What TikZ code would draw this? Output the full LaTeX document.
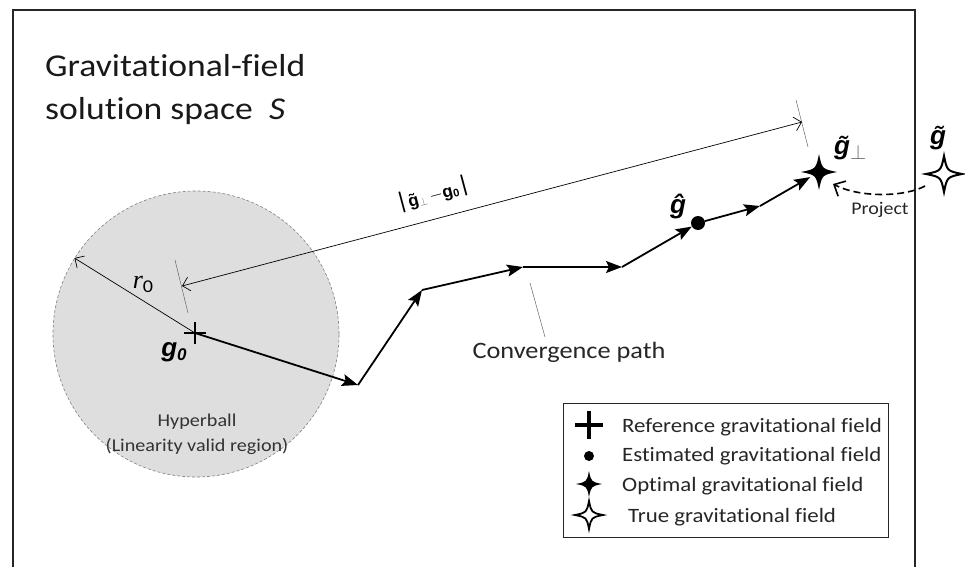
\documentclass[tikz,border=0pt]{standalone}
\usepackage{fontspec}
\setmainfont{Carlito}[FakeStretch=1.12,Ligatures=NoCommon,RawFeature={-liga;-clig;-calt;-dlig}]
\setsansfont{Liberation Sans}
\newfontfamily\tnr{Liberation Serif}
\usetikzlibrary{arrows.meta}
\newcommand\gbf{\sffamily\bfseries\itshape}
\tikzset{
  fourstar/.pic={\path[pic actions] (0,-#1) .. controls ({0.17*#1},{-0.17*#1}) .. (#1,0) .. controls ({0.17*#1},{0.17*#1}) .. (0,#1) .. controls ({-0.17*#1},{0.17*#1}) .. (-#1,0) .. controls ({-0.17*#1},{-0.17*#1}) .. cycle;},
  crossmark/.pic={\draw[line width=#1] (0,0) ++(-4.2*#1,0) -- ++(8.4*#1,0) (0,0) ++(0,-4.2*#1) -- ++(0,8.4*#1);},
  barb/.tip={Straight Barb[length=7pt,width=14pt]},
}
\begin{document}
\begin{tikzpicture}[x=1pt,y=-1pt,
  pathseg/.style={line width=1.8pt,-{Stealth[length=16pt,width=12pt,inset=3pt]}},
  thinarr/.style={line width=0.7pt},
  tickline/.style={line width=0.5pt,black!60},
  markn/.style={inner sep=0pt,minimum size=#1,circle},
  txt/.style={inner sep=0pt,text=black!85},
  legtxt/.style={txt,anchor=base west,font=\fontsize{20.4}{20.4}\selectfont},
]
\useasboundingbox (0,0) rectangle (965,567);
% frame
\draw[line width=1.5pt,black!85] (13,567) -- (13,10) -- (915,10) -- (915,567);
% title
\node[txt,anchor=base west,font=\fontsize{31.8}{31.8}\selectfont,text=black!90] (title1) at (45,77) {Gravitational-field};
\node[txt,anchor=base west,font=\fontsize{31.8}{31.8}\selectfont,text=black!90] (title2) at (45,120) {solution space~ \textit{S}};
% hyperball
\node[circle,minimum size=286pt,inner sep=0pt,fill=black!13,draw=black!50,
  dash pattern=on 3pt off 2pt,line width=0.6pt] (ball) at (196,334) {};
\node[txt,font=\fontsize{18}{25}\selectfont,align=center,text=black!80] (hyp) at (197,434)
  {Hyperball\\(Linearity valid region)};
% path points
\coordinate (g0) at (195,333);
\coordinate (p1) at (358,385);
\coordinate (p2) at (422,290);
\coordinate (p3) at (523,267);
\coordinate (p4) at (622,267);
\node[markn=14pt,fill=black] (est) at (698,223) {};
\coordinate (p6) at (760,206);
\node[markn=20pt] (opt) at (819,172) {};
\node[markn=30pt] (truef) at (944,174) {};
% r0 arrow
\draw[thinarr,-{barb}] (g0) -- (ball.148);
\node[inner sep=0pt,font=\fontsize{26}{26}\selectfont] (r0) at (143,284) {{\tnr\itshape r}{\raisebox{-4pt}{\fontsize{18}{18}\selectfont 0}}};
% convergence path
\draw[pathseg] (g0) -- (p1);
\draw[pathseg] (p1) -- (p2);
\draw[pathseg] (p2) -- (p3);
\draw[pathseg] (p3) -- (p4);
\draw[pathseg] (p4) -- (est);
\draw[pathseg] (est) -- (p6);
\draw[pathseg] (p6) -- (opt);
% markers
\pic at (g0) {crossmark=2.6pt};
\pic[fill=black] at (opt) {fourstar=18};
\pic[fill=white,draw=black,line width=2pt] at (truef) {fourstar=18};
% labels
\node[inner sep=0pt,font=\fontsize{26}{26}\selectfont] (g0l) at (174,352) {\gbf g\raisebox{-4pt}{\fontsize{17}{17}\selectfont 0}};
\node[inner sep=0pt,font=\fontsize{26}{26}\selectfont] (estl) at (678,206) {\gbf\^{g}};
\node[inner sep=0pt,font=\fontsize{26}{26}\selectfont,anchor=west] (optl) at (834,148) {\gbf\~{g}\raisebox{-5pt}{\normalfont\fontsize{20}{20}\selectfont\textcolor{black!60}{$\perp$}}};
\node[inner sep=0pt,font=\fontsize{26}{26}\selectfont] (truel) at (938,138) {\gbf\~{g}};
% dimension line
\coordinate (dl) at (182,286);
\coordinate (dr) at (802,122);
\draw[tickline] (175,260) coordinate (tl1) -- (188,313) coordinate (tl2);
\draw[tickline] (796,100) coordinate (tr1) -- (808,147) coordinate (tr2);
\draw[thinarr,{barb}-{barb}] (dl) -- (dr);
\node[inner sep=0pt,rotate=15,font=\fontsize{17}{17}\selectfont] (diml) at (433,194)
  {{\fontsize{24}{24}\selectfont\normalfont|}{\sffamily\bfseries\~{g}}\raisebox{-2pt}{\fontsize{11}{11}\selectfont\textcolor{black!60}{$\perp$}}\,$-${\sffamily\bfseries g}\raisebox{-2pt}{\fontsize{11}{11}\selectfont\sffamily\bfseries 0}{\fontsize{24}{24}\selectfont\normalfont|}};
% convergence label
\draw[tickline] (530,283) coordinate (ct1) -- (545,337) coordinate (ct2);
\node[txt,font=\fontsize{23.5}{23.5}\selectfont] (convl) at (569,352) {Convergence path};
% project
\coordinate (ps) at (925,186);
\draw[line width=1.6pt,dash pattern=on 7pt off 4pt,-{Straight Barb[length=9pt,width=17pt,line width=1.6pt]}]
  (ps) .. controls (905,197) and (860,198) .. (833,184);
\node[txt,font=\fontsize{17.8}{17.8}\selectfont] (projl) at (880,210) {Project};
% legend
\node[draw=black!85,line width=1pt,inner sep=0pt,minimum width=325pt,minimum height=134pt] (leg) at (725.5,470) {};
\pic at (589,425) {crossmark=3.3pt};
\node[markn=10pt,fill=black] (legdot) at (589,456) {};
\pic[fill=black] at (589,484) {fourstar=13};
\pic[fill=white,draw=black,line width=1.8pt] at (589,515) {fourstar=14};
\node[legtxt] (lt1) at (622,432) {Reference gravitational field};
\node[legtxt] (lt2) at (622,461) {Estimated gravitational field};
\node[legtxt] (lt3) at (622,491) {Optimal gravitational field};
\node[legtxt] (lt4) at (628,522) {True gravitational field};
\end{tikzpicture}
\end{document}
